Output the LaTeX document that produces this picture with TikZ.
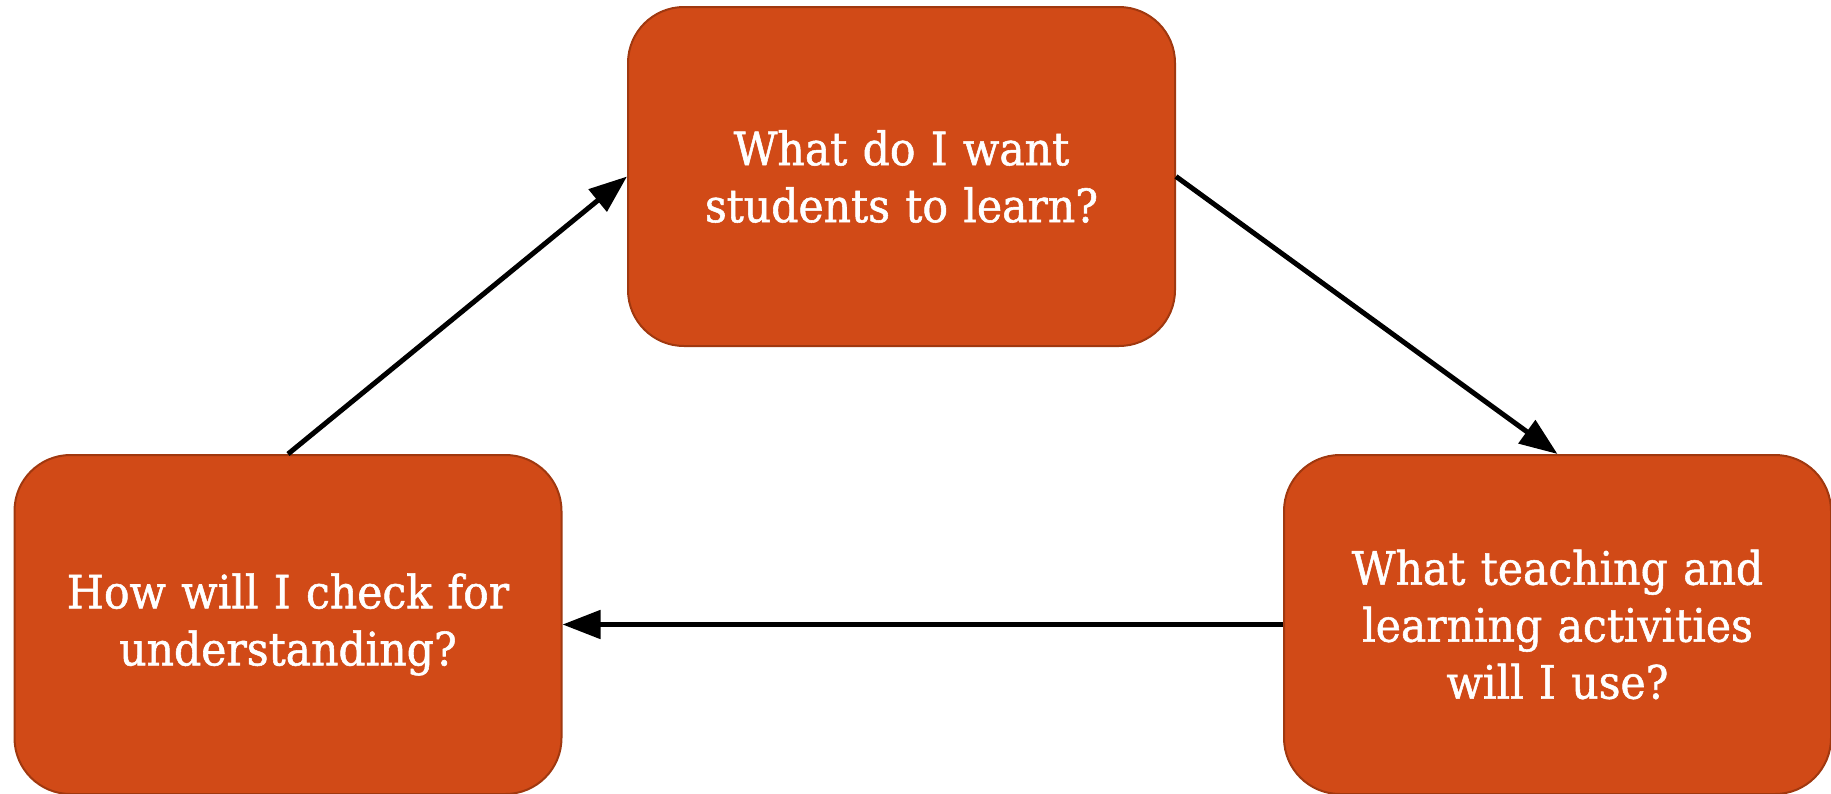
\documentclass[tikz,border=0pt]{standalone}
\usepackage{fontspec}
\setmainfont{DejaVu Serif}[FakeStretch=0.925,FakeBold=1.2]
\usetikzlibrary{arrows.meta}
\definecolor{boxfill}{RGB}{209,74,23}
\definecolor{boxline}{RGB}{160,56,15}
\begin{document}
\begin{tikzpicture}[x=1pt,y=-1pt,
  qbox/.style={draw=boxline, line width=2pt, fill=boxfill, rounded corners=56pt,
    minimum width=547pt, minimum height=339pt, text=white, align=center,
    font=\fontsize{46}{57}\selectfont, inner sep=0pt, text width=520pt},
  flow/.style={draw=black, line width=5pt, -{Triangle[length=38pt,width=28pt]}}]
\useasboundingbox (0,0) rectangle (1831,793);
\node[qbox] (top) at (901.5,176.5) {What do I want\\students to learn?};
\node[qbox] (left) at (288,624.5) {How will I check for\\understanding?};
\node[qbox] (right) at (1557.5,624.5) {What teaching and\\learning activities\\will I use?};
\draw[flow] (left.north) -- (top.west);
\draw[flow] (top.east) -- (right.north);
\draw[flow] (right.west) -- (left.east);
\end{tikzpicture}
\end{document}
